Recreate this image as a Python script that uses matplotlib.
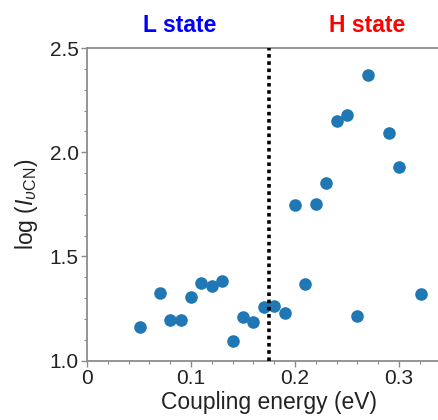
import matplotlib
matplotlib.use("Agg")
import matplotlib.pyplot as plt
from matplotlib.ticker import MultipleLocator, FuncFormatter

plt.rcParams["font.family"] = ["Liberation Sans", "DejaVu Sans"]
plt.rcParams["mathtext.fontset"] = "custom"
plt.rcParams["mathtext.rm"] = "Liberation Sans"
plt.rcParams["mathtext.it"] = "Liberation Sans:italic"

# coupling energy (eV) vs log(I_vCN)
coupling = [0.051, 0.070, 0.080, 0.090, 0.100, 0.110, 0.120, 0.130, 0.140,
            0.150, 0.160, 0.170, 0.180, 0.190, 0.200, 0.210, 0.220, 0.230,
            0.240, 0.250, 0.260, 0.270, 0.290, 0.300, 0.321]
log_intensity = [1.163, 1.325, 1.196, 1.196, 1.303, 1.372, 1.359, 1.381, 1.095,
                 1.208, 1.183, 1.256, 1.264, 1.229, 1.748, 1.365, 1.753, 1.854,
                 2.152, 2.178, 1.215, 2.372, 2.093, 1.928, 1.317]
boundary = 0.175
state_labels = ["L state", "H state"]

fig = plt.figure(figsize=(4.39, 4.20), dpi=100)
# axes run past the right edge of the figure, as in the original crop
ax = fig.add_axes([87 / 439, 59.5 / 420, 364 / 439, 312.4 / 420])

ax.scatter(coupling, log_intensity, s=82, color="#1f77b4", zorder=3, linewidths=0)
ax.axvline(boundary, color="black", linestyle=(0, (1, 1)), linewidth=2.6, zorder=4)

ax.set_xlim(0, 0.35)
ax.set_ylim(1.0, 2.5)
ax.xaxis.set_major_locator(MultipleLocator(0.1))
ax.xaxis.set_minor_locator(MultipleLocator(0.02))
ax.yaxis.set_major_locator(MultipleLocator(0.5))
ax.yaxis.set_minor_locator(MultipleLocator(0.1))
ax.xaxis.set_major_formatter(FuncFormatter(lambda v, p: "0" if abs(v) < 1e-9 else f"{v:.1f}"))
ax.yaxis.set_major_formatter(FuncFormatter(lambda v, p: f"{v:.1f}"))

ax.spines["right"].set_visible(False)
for side in ["left", "bottom", "top"]:
    ax.spines[side].set_color("#8c8c8c")
    ax.spines[side].set_linewidth(1.3)

ax.tick_params(which="major", direction="out", length=4, width=1.0, color="#8c8c8c",
               labelsize=15, labelcolor="#222222", pad=2)
ax.tick_params(which="minor", direction="out", length=2, width=0.8, color="#8c8c8c")

ax.set_xlabel("Coupling energy (eV)", fontsize=16.5, color="#222222", labelpad=2)
ax.set_ylabel(r"log ($I_{\upsilon\mathrm{CN}}$)", fontsize=16.5, color="#222222", labelpad=7)

fig.text(180 / 439, 1 - 25 / 420, state_labels[0], color="#0000ff", fontsize=16.5,
         fontweight="bold", ha="center", va="center")
fig.text(367 / 439, 1 - 25 / 420, state_labels[1], color="#ff0000", fontsize=16.5,
         fontweight="bold", ha="center", va="center")

fig.savefig("out.png", dpi=100)
